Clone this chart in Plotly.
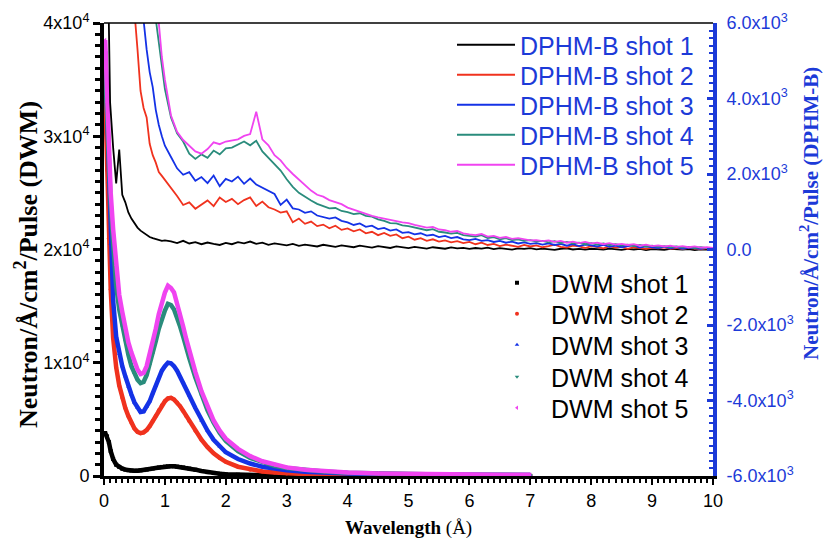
import plotly.graph_objects as go

# ---------------- data ----------------
# DPHM-B (right axis) sampling grid, Å
wl_dphm = [round(0.05 * i, 2) for i in range(1, 21)] + [round(1 + 0.1 * i, 1) for i in range(1, 91)]

dphm_shot1 = [9000, 3900, 2700, 1750, 2650, 1450, 1250, 980, 820, 690,
              580, 500, 440, 370, 330, 300, 270, 250, 230, 240,
              215, 170, 230, 160, 195, 140, 185, 150, 120, 175,
              140, 195, 165, 210, 150, 180, 125, 160, 135, 110,
              150, 95, 130, 115, 80, 125, 100, 70, 110, 85,
              60, 100, 75, 50, 90, 65, 40, 80, 55, 35,
              70, 45, 25, 60, 40, 20, 55, 30, 45, 15,
              40, 25, 50, 10, 35, 20, -5, 30, 15, 35,
              5, 25, 10, -10, 20, 30, 0, 15, -5, 20,
              10, -5, 25, 5, -10, 15, 0, 20, -15, 10,
              5, -10, 15, 0, -5, 10, -15, 5, 0, -10]
dphm_shot2 = [30000, 22000, 17000, 13500, 11000, 9500, 8300, 7400, 6800, 6300,
              5300, 4200, 3750, 3500, 2800, 2500, 2300, 2050, 1950, 1850,
              1650, 1420, 1180, 1250, 1080, 1200, 1300, 1150, 1380, 1260,
              1340, 1200, 1310, 1380, 1150, 1270, 1120, 1060, 980, 1010,
              720, 820, 680, 740, 620, 660, 560, 630, 520, 560,
              480, 530, 430, 470, 380, 440, 360, 400, 300, 340,
              260, 300, 230, 270, 210, 240, 190, 220, 170, 200,
              140, 180, 120, 150, 90, 130, 100, 70, 120, 80,
              110, 60, 90, 130, 70, 50, 100, 80, 40, 90,
              60, 30, 80, 50, 70, 20, 60, 40, 15, 50,
              30, 55, 20, 40, 10, 45, 25, 5, 35, 20]
dphm_shot3 = [40000, 30000, 24000, 19000, 16000, 13500, 11800, 10400, 9300, 8400,
              7600, 6900, 6000, 5300, 4700, 4300, 3700, 3300, 3000, 2750,
              2450, 2150, 1980, 2050, 1820, 1920, 1760, 1960, 1680, 1870,
              1800, 1930, 1740, 1880, 1720, 1640, 1560, 1470, 1180, 1320,
              1090, 1060, 970, 1010, 900, 870, 820, 850, 760, 720,
              650, 690, 600, 630, 540, 570, 500, 530, 440, 460,
              400, 430, 370, 390, 330, 360, 300, 330, 270, 250,
              280, 230, 250, 200, 230, 180, 210, 160, 190, 150,
              170, 130, 160, 120, 150, 100, 140, 90, 130, 110,
              80, 120, 70, 100, 60, 90, 110, 50, 80, 60,
              40, 70, 30, 60, 20, 50, 35, 15, 45, 30]
dphm_shot4 = [60000, 45000, 36000, 29000, 24000, 20000, 17000, 14500, 12500, 11000,
              9800, 8800, 8000, 7400, 6900, 6500, 6100, 5500, 4900, 4250,
              3500, 3080, 2860, 2540, 2400, 2520, 2430, 2620, 2520, 2680,
              2700, 2780, 2860, 2760, 2880, 2600, 2430, 2260, 2090, 1860,
              1660, 1500, 1390, 1300, 1210, 1160, 1090, 1100, 1020, 990,
              940, 960, 890, 870, 800, 760, 700, 690, 640, 620,
              580, 560, 510, 540, 470, 450, 420, 440, 380, 360,
              340, 380, 300, 330, 270, 300, 250, 270, 230, 250,
              210, 230, 190, 220, 170, 200, 160, 180, 140, 170,
              130, 160, 120, 140, 110, 130, 90, 120, 80, 100,
              70, 90, 60, 80, 50, 70, 40, 60, 35, 45]
dphm_shot5 = [65000, 50000, 40000, 32000, 26000, 22000, 18500, 16000, 14000, 12300,
              11000, 9800, 8800, 8000, 7400, 7000, 6400, 6000, 5100, 4500,
              3550, 3120, 2900, 2760, 2600, 2540, 2660, 2840, 2790, 2860,
              2900, 2920, 3010, 3060, 3650, 2920, 2760, 2500, 2360, 2160,
              2000, 1850, 1700, 1560, 1450, 1400, 1310, 1260, 1200, 1110,
              1050, 1010, 950, 890, 850, 810, 790, 750, 720, 700,
              650, 620, 580, 600, 530, 510, 470, 490, 430, 400,
              380, 410, 340, 360, 310, 330, 280, 300, 260, 240,
              250, 220, 240, 200, 230, 180, 210, 170, 200, 160,
              180, 140, 170, 130, 150, 120, 140, 100, 130, 90,
              110, 80, 100, 70, 90, 60, 80, 50, 60, 40]

# DWM (left axis) sampling grid, Å
wl_dwm = [0.02, 0.05, 0.08, 0.11, 0.15, 0.2, 0.25, 0.3, 0.35, 0.4,
          0.45, 0.5, 0.55, 0.6, 0.65, 0.7, 0.75, 0.8, 0.85, 0.9,
          0.95, 1.0, 1.05, 1.1, 1.15, 1.2, 1.25, 1.3, 1.35, 1.4,
          1.5, 1.6, 1.7, 1.8, 1.9, 2.0, 2.2, 2.4, 2.6, 2.8,
          3.0, 3.3, 3.6, 4.0, 4.5, 5.0, 5.5, 6.0, 6.5, 7.0]

dwm_shot1 = [3800, 3500, 3000, 2200, 1500, 1000, 800, 650, 560, 500,
             470, 460, 470, 490, 520, 560, 610, 660, 710, 760,
             800, 830, 860, 870, 860, 830, 800, 760, 710, 660,
             560, 440, 340, 260, 200, 160, 110, 80, 60, 50,
             40, 30, 25, 20, 18, 15, 14, 12, 11, 10]
dwm_shot2 = [33500, 27000, 21000, 16500, 12200, 9600, 8000, 6900, 6000, 5300,
             4700, 4200, 3900, 3780, 3850, 4050, 4400, 4850, 5300, 5800,
             6250, 6600, 6850, 6900, 6750, 6500, 6150, 5750, 5300, 4850,
             4000, 3200, 2550, 2000, 1600, 1250, 820, 560, 400, 300,
             230, 170, 130, 100, 80, 65, 55, 50, 45, 40]
dwm_shot3 = [37500, 32000, 26000, 20500, 15500, 12300, 10800, 9700, 8800, 7900,
             7200, 6500, 6000, 5650, 5700, 6100, 6600, 7300, 8000, 8700,
             9300, 9700, 10000, 9950, 9700, 9300, 8800, 8300, 7700, 7100,
             6000, 4900, 4000, 3200, 2600, 2100, 1500, 1100, 820, 640,
             500, 370, 290, 220, 170, 135, 115, 100, 90, 80]
dwm_shot4 = [36000, 31500, 27500, 24000, 20500, 16800, 14700, 13200, 11900, 10700,
             9700, 9000, 8500, 8200, 8300, 8900, 9800, 10800, 11900, 13000,
             13900, 14600, 15200, 15100, 14700, 14000, 13200, 12300, 11300, 10400,
             8700, 7100, 5800, 4700, 3800, 3100, 2200, 1600, 1200, 900,
             700, 510, 390, 290, 210, 165, 140, 120, 105, 95]
dwm_shot5 = [38500, 33000, 28500, 25000, 21800, 18600, 16000, 14500, 13000, 11800,
             10900, 10000, 9400, 9000, 9100, 9700, 10700, 11900, 13000, 14300,
             15300, 16200, 16800, 16600, 16200, 15300, 14300, 13200, 12100, 11100,
             9200, 7500, 6100, 4900, 4000, 3300, 2400, 1750, 1300, 980,
             760, 560, 420, 310, 230, 180, 150, 130, 115, 100]

dphm_names = ["DPHM-B shot 1", "DPHM-B shot 2", "DPHM-B shot 3", "DPHM-B shot 4", "DPHM-B shot 5"]
dwm_names = ["DWM shot 1", "DWM shot 2", "DWM shot 3", "DWM shot 4", "DWM shot 5"]
shot_colors = ["#000000", "#f0321e", "#1432e6", "#2a8c7c", "#f044f0"]
dwm_symbols = ["square", "circle", "triangle-up", "triangle-down", "triangle-left"]

left_ticks = [0, 10000, 20000, 30000, 40000]
left_ticktext = ["0", "1x10<sup>4</sup>", "2x10<sup>4</sup>", "3x10<sup>4</sup>", "4x10<sup>4</sup>"]
right_ticks = [-6000, -4000, -2000, 0, 2000, 4000, 6000]
right_ticktext = ["-6.0x10<sup>3</sup>", "-4.0x10<sup>3</sup>", "-2.0x10<sup>3</sup>", "0.0",
                  "2.0x10<sup>3</sup>", "4.0x10<sup>3</sup>", "6.0x10<sup>3</sup>"]

AXIS_BLUE = "#1c3ad8"
SANS = "Liberation Sans, Arial, sans-serif"
SERIF = "Liberation Serif, Times New Roman, serif"

dphm_series = [dphm_shot1, dphm_shot2, dphm_shot3, dphm_shot4, dphm_shot5]
dwm_series = [dwm_shot1, dwm_shot2, dwm_shot3, dwm_shot4, dwm_shot5]

fig = go.Figure()

# DWM spectra: dense band plus point markers (left axis)
for i, vals in enumerate(dwm_series):
    fig.add_trace(go.Scatter(
        x=wl_dwm, y=vals, mode="lines", yaxis="y",
        line=dict(color=shot_colors[i], width=4.5),
        showlegend=False, hoverinfo="skip"))
    fig.add_trace(go.Scatter(
        x=wl_dwm, y=vals, mode="markers", yaxis="y",
        name=dwm_names[i], legend=f"legend{6 + i}",
        marker=dict(color=shot_colors[i], symbol=dwm_symbols[i], size=4)))

# DPHM-B spectra (right axis)
for i, vals in enumerate(dphm_series):
    fig.add_trace(go.Scatter(
        x=wl_dphm, y=vals, mode="lines", yaxis="y2",
        name=dphm_names[i], legend="legend" if i == 0 else f"legend{1 + i}",
        line=dict(color=shot_colors[i], width=1.8)))

# one legend box per entry so the rows can be spaced freely
legend_layout = {}
dphm_rows = [45, 75, 105, 135, 165]
dwm_rows = [283, 314, 345, 377, 408]
PLOT_TOP, PLOT_H, PLOT_L, PLOT_W = 23, 453, 104, 609
for i, row in enumerate(dphm_rows):
    key = "legend" if i == 0 else f"legend{1 + i}"
    legend_layout[key] = dict(
        x=(452 - PLOT_L) / PLOT_W, xanchor="left",
        y=1 - (row - PLOT_TOP) / PLOT_H, yanchor="middle",
        bgcolor="rgba(0,0,0,0)", borderwidth=0, itemwidth=58,
        font=dict(family=SANS, size=25, color=AXIS_BLUE))
for i, row in enumerate(dwm_rows):
    legend_layout[f"legend{6 + i}"] = dict(
        x=(483 - PLOT_L) / PLOT_W, xanchor="left",
        y=1 - (row - PLOT_TOP) / PLOT_H, yanchor="middle",
        bgcolor="rgba(0,0,0,0)", borderwidth=0, itemwidth=58,
        font=dict(family=SANS, size=25, color="#000000"))

fig.update_layout(
    width=824, height=547,
    margin=dict(l=104, r=111, t=23, b=71, autoexpand=False),
    paper_bgcolor="white", plot_bgcolor="white",
    showlegend=True,
    xaxis=dict(
        range=[0, 10], dtick=1, tick0=0,
        showline=True, linecolor="black", linewidth=3,
        ticks="outside", ticklen=6, tickwidth=2, tickcolor="black",
        minor=dict(dtick=0.1, ticks="outside", ticklen=4, tickwidth=2, tickcolor="black"),
        showgrid=False, zeroline=False,
        tickfont=dict(family=SANS, size=18, color="black")),
    yaxis=dict(
        range=[0, 40000], tickvals=left_ticks, ticktext=left_ticktext,
        showline=True, linecolor="black", linewidth=4,
        ticks="outside", ticklen=7, tickwidth=3, tickcolor="black",
        minor=dict(dtick=1000, ticks="outside", ticklen=5, tickwidth=3, tickcolor="black"),
        showgrid=False, zeroline=False,
        tickfont=dict(family=SANS, size=18, color="black")),
    yaxis2=dict(
        range=[-6000, 6000], tickvals=right_ticks, ticktext=right_ticktext,
        overlaying="y", side="right", anchor="x",
        showline=True, linecolor=AXIS_BLUE, linewidth=4,
        ticks="inside", ticklen=6, tickwidth=3, tickcolor=AXIS_BLUE,
        minor=dict(dtick=200, ticks="inside", ticklen=4, tickwidth=2, tickcolor=AXIS_BLUE),
        ticklabelstandoff=6,
        showgrid=False, zeroline=False,
        tickfont=dict(family=SANS, size=18, color=AXIS_BLUE)),
    shapes=[dict(type="line", xref="paper", yref="paper", x0=0, x1=1, y0=1, y1=1,
                 line=dict(color="black", width=1.5))],
    annotations=[
        dict(text="<b>Neutron/Å/cm<sup>2</sup>/Pulse (DWM)</b>", textangle=-90,
             xref="paper", yref="paper", x=(26 - PLOT_L) / PLOT_W, y=1 - (265 - PLOT_TOP) / PLOT_H,
             xanchor="center", yanchor="middle", showarrow=False,
             font=dict(family=SERIF, size=26, color="black")),
        dict(text="<b>Neutron/Å/cm<sup>2</sup>/Pulse (DPHM-B)</b>", textangle=-90,
             xref="paper", yref="paper", x=(810 - PLOT_L) / PLOT_W, y=1 - (214 - PLOT_TOP) / PLOT_H,
             xanchor="center", yanchor="middle", showarrow=False,
             font=dict(family=SERIF, size=21, color=AXIS_BLUE)),
        dict(text="<b>Wavelength</b> (Å)",
             xref="paper", yref="paper", x=0.5, y=1 - (528 - PLOT_TOP) / PLOT_H,
             xanchor="center", yanchor="middle", showarrow=False,
             font=dict(family=SERIF, size=19, color="black")),
    ],
    **legend_layout,
)

fig.write_html("out.html")
